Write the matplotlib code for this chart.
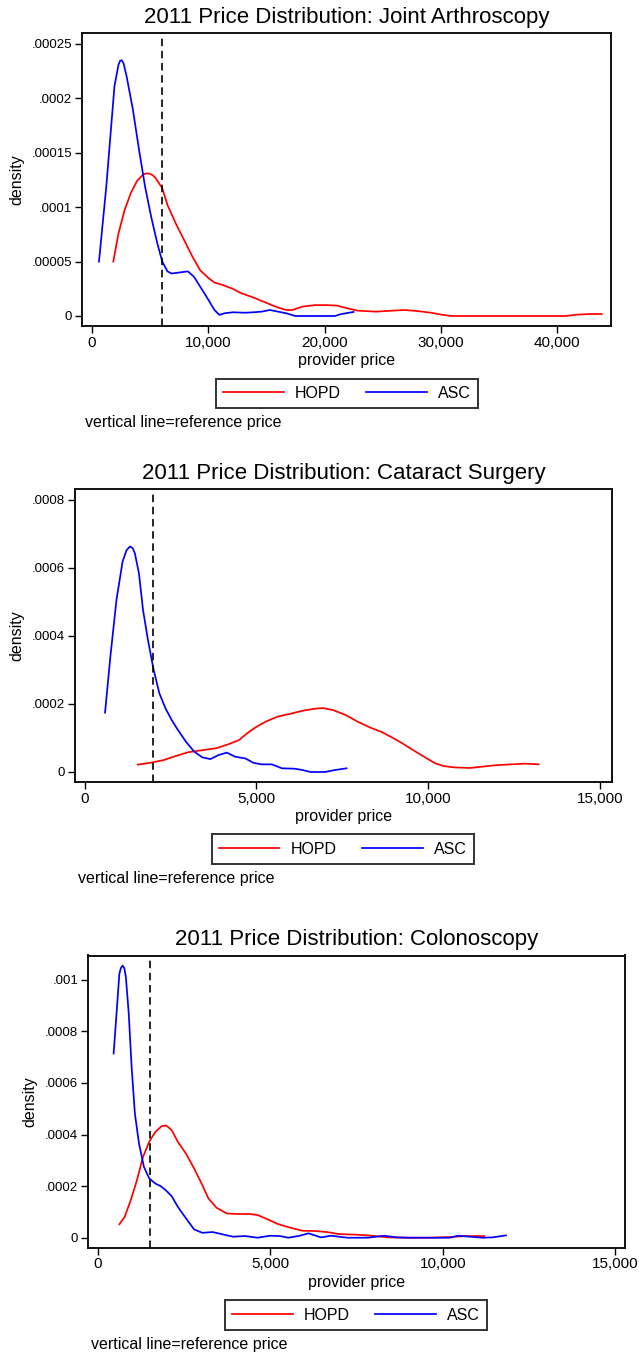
import matplotlib
matplotlib.use("Agg")
import matplotlib.pyplot as plt
from matplotlib.lines import Line2D

plt.rcParams['font.family'] = ['Liberation Sans', 'DejaVu Sans']

# ---------------- data ----------------
titles = ["2011 Price Distribution: Joint Arthroscopy",
          "2011 Price Distribution: Cataract Surgery",
          "2011 Price Distribution: Colonoscopy"]
ref_prices = [6000, 2000, 1500]
series_names = ["HOPD", "ASC"]

# Joint arthroscopy
ja_hopd_x = [1830, 2280, 2810, 3340, 3870, 4390, 4700, 4960, 5200, 5450, 6040, 6490, 7200, 7910,
             8610, 9300, 10000, 10530, 11230, 12100, 12810, 13880, 14940, 16000, 16700, 17220,
             18100, 19160, 20200, 21090, 21970, 22850, 24420, 25830, 26880, 27930, 29160, 30050,
             30930, 34270, 37790, 40770, 41650, 42700, 43830]
ja_hopd_y = [5.0e-5, 7.6e-5, 9.75e-5, 1.13e-4, 1.24e-4, 1.30e-4, 1.31e-4, 1.307e-4, 1.295e-4,
             1.27e-4, 1.175e-4, 1.02e-4, 8.5e-5, 7.0e-5, 5.5e-5, 4.2e-5, 3.5e-5, 3.07e-5, 2.85e-5,
             2.5e-5, 2.1e-5, 1.7e-5, 1.23e-5, 7.7e-6, 5.5e-6, 5.5e-6, 8.6e-6, 1.0e-5, 1.0e-5,
             9.5e-6, 7.0e-6, 4.9e-6, 4.0e-6, 4.9e-6, 5.5e-6, 4.6e-6, 3.0e-6, 1.2e-6, 0, 0, 0, 0,
             1.2e-6, 1.8e-6, 1.8e-6]
ja_asc_x = [600, 1230, 1930, 2280, 2420, 2560, 2720, 2980, 3510, 4040, 4560, 5090, 5610, 6040,
            6490, 6840, 7540, 8250, 8770, 9300, 10000, 10530, 10950, 11400, 12100, 13160, 13880,
            14590, 15290, 16000, 16700, 17470, 18800, 20900, 21440, 22490]
ja_asc_y = [5.0e-5, 1.19e-4, 2.11e-4, 2.31e-4, 2.345e-4, 2.35e-4, 2.32e-4, 2.2e-4, 1.9e-4,
            1.53e-4, 1.19e-4, 9.1e-5, 6.7e-5, 5.0e-5, 4.1e-5, 3.9e-5, 4.0e-5, 4.1e-5, 3.6e-5,
            2.7e-5, 1.5e-5, 5.5e-6, 1e-6, 2.5e-6, 3.4e-6, 3.0e-6, 3.4e-6, 4.0e-6, 5.5e-6, 4.0e-6,
            2.5e-6, 0, 0, 0, 1.8e-6, 3.7e-6]

# Cataract surgery
cs_hopd_x = [1546, 1939, 2296, 2653, 3009, 3485, 3842, 4199, 4496, 4734, 4972, 5269, 5626, 5983,
             6340, 6697, 6935, 7232, 7589, 7946, 8303, 8660, 8957, 9254, 9551, 9908, 10205,
             10443, 10740, 11216, 11573, 11930, 12406, 12822, 13215]
cs_hopd_y = [2.16e-5, 2.75e-5, 3.5e-5, 4.7e-5, 5.8e-5, 6.5e-5, 7.0e-5, 8.2e-5, 9.4e-5, 1.14e-4,
             1.31e-4, 1.48e-4, 1.63e-4, 1.71e-4, 1.80e-4, 1.86e-4, 1.88e-4, 1.82e-4, 1.68e-4,
             1.48e-4, 1.31e-4, 1.17e-4, 1.01e-4, 8.4e-5, 6.5e-5, 4.3e-5, 2.55e-5, 1.76e-5,
             1.37e-5, 1.18e-5, 1.57e-5, 1.96e-5, 2.25e-5, 2.45e-5, 2.25e-5]
cs_asc_x = [595, 750, 928, 1106, 1220, 1320, 1400, 1463, 1582, 1701, 1844, 2010, 2177, 2355, 2534,
            2712, 2950, 3188, 3426, 3664, 3902, 4140, 4377, 4675, 4913, 5150, 5448, 5745, 6102,
            6340, 6578, 6994, 7291, 7625]
cs_asc_y = [1.745e-4, 3.39e-4, 5.06e-4, 6.19e-4, 6.52e-4, 6.63e-4, 6.58e-4, 6.43e-4, 5.84e-4,
            4.76e-4, 3.88e-4, 3.0e-4, 2.31e-4, 1.87e-4, 1.53e-4, 1.24e-4, 8.9e-5, 6.0e-5, 4.3e-5,
            3.8e-5, 5.0e-5, 5.7e-5, 4.5e-5, 4.0e-5, 2.7e-5, 2.25e-5, 2.25e-5, 1.08e-5, 9.8e-6,
            5.9e-6, 0, 0, 5.9e-6, 1.08e-5]

# Colonoscopy
co_hopd_x = [616, 771, 948, 1126, 1304, 1482, 1660, 1838, 1980, 2134, 2312, 2549, 2786, 3023,
             3201, 3438, 3734, 4031, 4386, 4624, 4920, 5216, 5572, 5928, 6283, 6639, 6995, 7469,
             7943, 8417, 9010, 9603, 10196, 10670, 11203]
co_hopd_y = [5.2e-5, 8.1e-5, 1.46e-4, 2.23e-4, 3.14e-4, 3.72e-4, 4.1e-4, 4.32e-4, 4.35e-4,
             4.17e-4, 3.72e-4, 3.26e-4, 2.68e-4, 2.04e-4, 1.52e-4, 1.16e-4, 9.4e-5, 9.2e-5,
             9.2e-5, 8.8e-5, 7.1e-5, 5.3e-5, 3.9e-5, 2.7e-5, 2.6e-5, 2.2e-5, 1.4e-5, 1.2e-5,
             7.7e-6, 1.3e-6, 0, 0, 2.6e-6, 6.5e-6, 6.5e-6]
co_asc_x = [450, 534, 616, 660, 711, 760, 806, 889, 972, 1067, 1186, 1328, 1482, 1660, 1814, 1956,
            2134, 2312, 2549, 2786, 3023, 3320, 3616, 3912, 4268, 4624, 4979, 5276, 5513, 5809,
            6106, 6461, 6758, 7232, 7825, 8299, 8655, 9010, 10196, 10433, 10788, 11144, 11440,
            11831]
co_asc_y = [7.14e-4, 8.68e-4, 1.023e-3, 1.045e-3, 1.055e-3, 1.045e-3, 1.01e-3, 8.68e-4, 6.62e-4,
            4.81e-4, 3.65e-4, 2.75e-4, 2.30e-4, 2.10e-4, 2.0e-4, 1.85e-4, 1.61e-4, 1.2e-4,
            7.5e-5, 3.2e-5, 1.9e-5, 2.2e-5, 1.3e-5, 4e-6, 6.5e-6, 0, 7.7e-6, 6.5e-6, 0, 6.5e-6,
            1.7e-5, 1.3e-6, 7.7e-6, 0, 0, 7.7e-6, 1.3e-6, 0, 0, 7.7e-6, 3.9e-6, 0, 1.3e-6, 9e-6]

x_ticks = [[0, 10000, 20000, 30000, 40000], [0, 5000, 10000, 15000], [0, 5000, 10000, 15000]]
x_ticklabels = [["0", "10,000", "20,000", "30,000", "40,000"],
                ["0", "5,000", "10,000", "15,000"],
                ["0", "5,000", "10,000", "15,000"]]
y_ticks = [[0, 0.00005, 0.0001, 0.00015, 0.0002, 0.00025],
           [0, 0.0002, 0.0004, 0.0006, 0.0008],
           [0, 0.0002, 0.0004, 0.0006, 0.0008, 0.001]]
y_ticklabels = [["0", ".00005", ".0001", ".00015", ".0002", ".00025"],
                ["0", ".0002", ".0004", ".0006", ".0008"],
                ["0", ".0002", ".0004", ".0006", ".0008", ".001"]]

panels = [(ja_hopd_x, ja_hopd_y, ja_asc_x, ja_asc_y),
          (cs_hopd_x, cs_hopd_y, cs_asc_x, cs_asc_y),
          (co_hopd_x, co_hopd_y, co_asc_x, co_asc_y)]

# ---------------- layout (pixels) ----------------
W, H = 639, 1357
fig = plt.figure(figsize=(W / 100, H / 100), dpi=100)

boxes = [(81.8, 611.2, 33, 326), (74.8, 612, 489, 782), (88, 624.7, 955.5, 1247.7)]
xlims = [(-877, 44643), (-285, 15349), (-293, 15273)]
ylims = [(-9.2e-6, 0.00026), (-2.94e-5, 0.000832), (-3.87e-5, 0.001094)]
title_y = [17, 473, 939]
xlabel_y = [361, 816, 1282]
ylabel_x = [16.4, 16.4, 29.4]
legend_c = [(347, 393.5), (342.8, 849), (356, 1315)]
note_pos = [(84.6, 423), (77.7, 879), (90.8, 1345)]

def fx(px):
    return px / W

def fy(py):
    return 1 - py / H

for i in range(3):
    l, r, t, b = boxes[i]
    ax = fig.add_axes([fx(l), fy(b), fx(r) - fx(l), fy(t) - fy(b)])
    hx, hy, axx, ay = panels[i]
    ax.plot(hx, hy, color='#ff0000', lw=1.25, label=series_names[0], solid_joinstyle='round')
    ax.plot(axx, ay, color='#0000ff', lw=1.25, label=series_names[1], solid_joinstyle='round')
    ax.axvline(ref_prices[i], color='black', lw=1.2, linestyle=(0, (4.5, 2.8)))
    ax.set_xlim(*xlims[i])
    ax.set_ylim(*ylims[i])
    ax.set_xticks(x_ticks[i])
    ax.set_xticklabels(x_ticklabels[i], fontsize=11)
    ax.set_yticks(y_ticks[i])
    ax.set_yticklabels(y_ticklabels[i], fontsize=9.5)
    ax.tick_params(axis='both', direction='out', length=5, width=1, pad=2, colors='black')
    for s in ax.spines.values():
        s.set_linewidth(1.4)
        s.set_color('#111111')
    cx = (l + r) / 2
    fig.text(fx(cx), fy(title_y[i]), titles[i], ha='center', va='center', fontsize=16)
    fig.text(fx(cx), fy(xlabel_y[i]), "provider price", ha='center', va='center', fontsize=11.5)
    fig.text(fx(ylabel_x[i]), fy((t + b) / 2), "density", ha='center', va='center',
             rotation=90, fontsize=11.5)
    lcx, lcy = legend_c[i]
    handles = [Line2D([], [], color='#ff0000', lw=1.25), Line2D([], [], color='#0000ff', lw=1.25)]
    leg = fig.legend(handles, series_names, loc='center', bbox_to_anchor=(fx(lcx), fy(lcy)),
                     ncol=2, fontsize=11.5, frameon=True, fancybox=False, edgecolor='black',
                     handlelength=3.8, handletextpad=0.7, columnspacing=1.6,
                     borderpad=0.45, borderaxespad=0)
    leg.get_frame().set_linewidth(1.4)
    nx, ny = note_pos[i]
    fig.text(fx(nx), fy(ny), "vertical line=reference price", ha='left', va='center', fontsize=11.5)

fig.savefig("out.png", dpi=100)
